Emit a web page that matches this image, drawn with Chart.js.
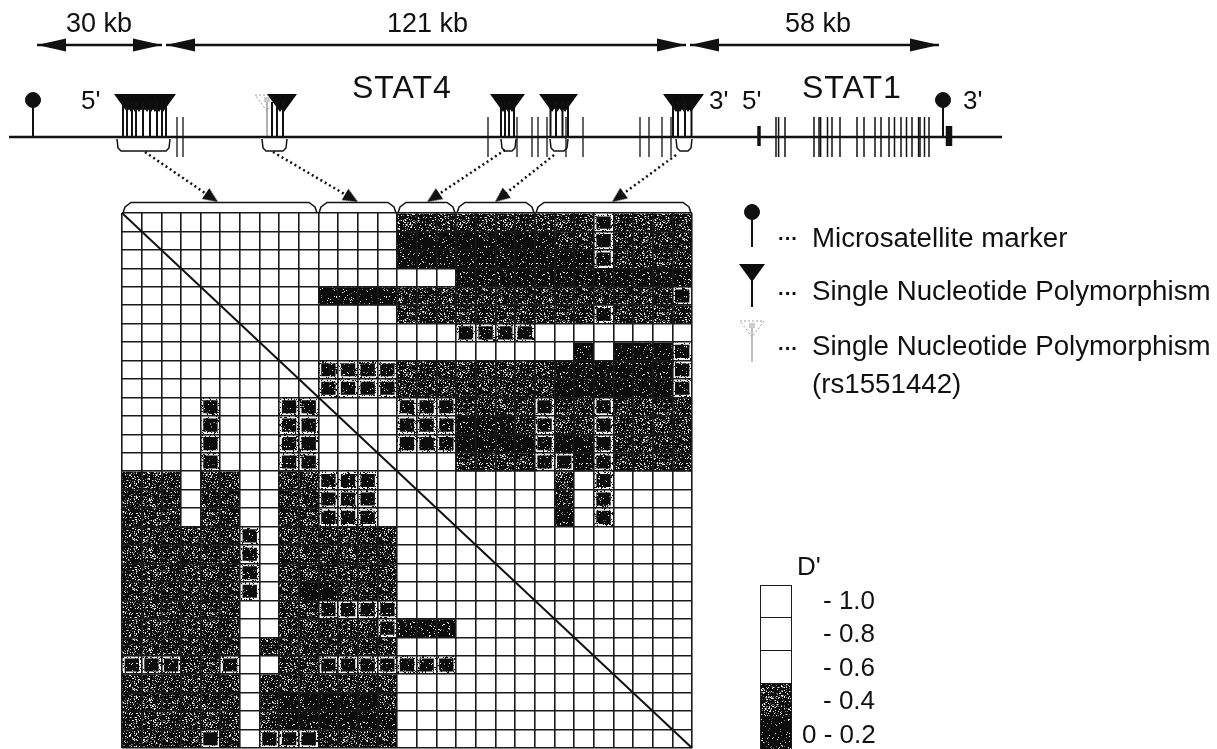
<!DOCTYPE html>
<html>
<head>
<meta charset="utf-8">
<title>STAT4 STAT1 LD</title>
<script src="https://cdn.jsdelivr.net/npm/chart.js@4"></script>
<style>
  html, body { margin: 0; background: #fff; overflow: hidden; }
  #page { position: relative; width: 1217px; height: 749px; overflow: hidden; }
  canvas { position: absolute; left: 0; top: 0; }
  .t { position: absolute; font-family: "Liberation Sans", Arial, sans-serif; color: #111; white-space: nowrap; line-height: 1; }
  .kb { font-size: 27px; }
  .gene { font-size: 32px; letter-spacing: 1px; }
  .end { font-size: 26px; }
  .leg { font-size: 27.7px; }
  .dots { font-size: 20px; font-weight: bold; }
  .bin { font-size: 26px; }
</style>
</head>
<body>
<div id="page">
  <canvas id="matrix" width="1217" height="749"></canvas>
  <canvas id="track" width="1217" height="749"></canvas>
  <canvas id="bins" width="33" height="165" style="left:759px;top:584px"></canvas>

  <div class="t kb" style="left:66px;top:10px">30 kb</div>
  <div class="t kb" style="left:387px;top:10px">121 kb</div>
  <div class="t kb" style="left:785px;top:10px">58 kb</div>
  <div class="t gene" style="left:352px;top:71px">STAT4</div>
  <div class="t gene" style="left:802px;top:71px">STAT1</div>
  <div class="t end" style="left:81px;top:87px">5'</div>
  <div class="t end" style="left:709px;top:87px">3'</div>
  <div class="t end" style="left:742px;top:87px">5'</div>
  <div class="t end" style="left:963px;top:87px">3'</div>

  <div class="t dots" style="left:778px;top:228px">···</div>
  <div class="t leg" style="left:812px;top:224px">Microsatellite marker</div>
  <div class="t dots" style="left:778px;top:283px">···</div>
  <div class="t leg" style="left:812px;top:277px">Single Nucleotide Polymorphism</div>
  <div class="t dots" style="left:778px;top:338px">···</div>
  <div class="t leg" style="left:812px;top:332px">Single Nucleotide Polymorphism</div>
  <div class="t leg" style="left:812px;top:370px">(rs1551442)</div>

  <div class="t bin" style="left:797px;top:553px">D'</div>
  <div class="t bin" style="left:823px;top:587px">- 1.0</div>
  <div class="t bin" style="left:823px;top:620px">- 0.8</div>
  <div class="t bin" style="left:823px;top:654px">- 0.6</div>
  <div class="t bin" style="left:823px;top:687px">- 0.4</div>
  <div class="t bin" style="left:802px;top:721px">0 - 0.2</div>
</div>
<script>
// D' matrix, read row by row. 0 white, 1 ringed dark cell, 2 speckled, 3 nearly solid
const row00 = [0,0,0,0,0,0,0,0,0,0,0,0,0,0,2,2,2,2,2,2,2,2,2,2,1,2,2,2,2];
const row01 = [0,0,0,0,0,0,0,0,0,0,0,0,0,0,3,3,3,3,3,3,3,3,2,2,1,2,2,2,2];
const row02 = [0,0,0,0,0,0,0,0,0,0,0,0,0,0,3,3,3,3,3,3,3,3,3,3,1,2,2,2,2];
const row03 = [0,0,0,0,0,0,0,0,0,0,0,0,0,0,0,0,0,3,3,3,3,3,3,3,3,3,3,3,3];
const row04 = [0,0,0,0,0,0,0,0,0,0,3,3,3,3,2,2,2,2,2,2,2,2,2,2,2,2,2,2,1];
const row05 = [0,0,0,0,0,0,0,0,0,0,0,0,0,0,2,2,2,2,2,2,2,2,2,2,1,2,2,2,2];
const row06 = [0,0,0,0,0,0,0,0,0,0,0,0,0,0,0,0,0,1,1,1,1,0,0,0,0,0,0,0,0];
const row07 = [0,0,0,0,0,0,0,0,0,0,0,0,0,0,0,0,0,0,0,0,0,0,0,3,0,3,3,3,1];
const row08 = [0,0,0,0,0,0,0,0,0,0,1,1,1,1,2,2,2,2,2,2,2,2,3,3,3,3,3,3,1];
const row09 = [0,0,0,0,0,0,0,0,0,0,1,1,1,1,2,2,2,2,2,2,2,2,3,3,3,3,3,3,1];
const row10 = [0,0,0,0,1,0,0,0,1,1,0,0,0,0,1,1,1,2,2,2,2,1,2,2,1,2,2,2,2];
const row11 = [0,0,0,0,1,0,0,0,1,1,0,0,0,0,1,1,1,3,3,3,2,1,2,2,1,2,2,2,2];
const row12 = [0,0,0,0,1,0,0,0,1,1,0,0,0,0,1,1,1,3,3,3,3,1,3,3,1,2,2,2,2];
const row13 = [0,0,0,0,1,0,0,0,1,1,0,0,0,0,0,0,0,2,2,2,2,1,1,3,1,2,2,2,2];
const row14 = [2,2,2,0,2,2,0,0,2,2,1,1,1,0,0,0,0,0,0,0,0,0,2,0,1,0,0,0,0];
const row15 = [2,2,2,0,2,2,0,0,2,2,1,1,1,0,0,0,0,0,0,0,0,0,2,0,1,0,0,0,0];
const row16 = [2,2,2,0,2,2,0,0,2,2,1,1,1,0,0,0,0,0,0,0,0,0,3,0,1,0,0,0,0];
const row17 = [2,2,2,2,2,2,1,0,2,2,2,2,2,2,0,0,0,0,0,0,0,0,0,0,0,0,0,0,0];
const row18 = [2,2,2,2,2,2,1,0,2,2,2,2,2,2,0,0,0,0,0,0,0,0,0,0,0,0,0,0,0];
const row19 = [2,2,2,2,2,2,1,0,2,2,2,2,2,2,0,0,0,0,0,0,0,0,0,0,0,0,0,0,0];
const row20 = [2,2,2,2,2,2,1,0,2,3,3,2,2,2,0,0,0,0,0,0,0,0,0,0,0,0,0,0,0];
const row21 = [2,2,2,2,2,2,0,0,2,2,1,1,1,1,0,0,0,0,0,0,0,0,0,0,0,0,0,0,0];
const row22 = [2,2,2,2,2,2,0,0,2,2,2,2,2,1,3,3,3,0,0,0,0,0,0,0,0,0,0,0,0];
const row23 = [2,2,2,2,2,2,0,2,2,2,2,2,2,2,0,0,0,0,0,0,0,0,0,0,0,0,0,0,0];
const row24 = [1,1,1,2,2,1,0,0,2,2,1,1,1,1,1,1,1,0,0,0,0,0,0,0,0,0,0,0,0];
const row25 = [2,2,2,2,2,2,0,2,2,2,2,2,2,2,0,0,0,0,0,0,0,0,0,0,0,0,0,0,0];
const row26 = [2,2,2,2,2,2,0,2,3,3,3,3,3,2,0,0,0,0,0,0,0,0,0,0,0,0,0,0,0];
const row27 = [2,2,2,2,2,2,0,2,3,3,3,3,3,3,0,0,0,0,0,0,0,0,0,0,0,0,0,0,0];
const row28 = [2,2,2,2,1,2,0,1,1,1,2,2,2,2,0,0,0,0,0,0,0,0,0,0,0,0,0,0,0];
const rows = [row00,row01,row02,row03,row04,row05,row06,row07,row08,row09,row10,row11,row12,row13,row14,
  row15,row16,row17,row18,row19,row20,row21,row22,row23,row24,row25,row26,row27,row28];
const markers = rows.map((r, i) => 'm' + (i + 1));

// Colour key, top to bottom
const binLevels = [0, 0, 0, 2, 3];

// Gene track, positions along the page width
const exonsStat4 = [177,183,488,517,532,538,547,566,583,640,649,662,671];
const exonsStat1 = [776,778.6,785,814,819,820.6,827.5,832,840,857,864,875,881,889,894.5,901,906.5,912,918.6,920,924.5,929];
const thickExons = [759,949];
const snpStems = [123,127,132,136,143,150,157,162,166,272,277,283,501,505,509,514,550.5,556,562.5,568,673,678,685,691.5];
const snpHeads = [127,131,135,139,143,147,151,155,159,163,280,284,503,508,512,552,557,562,565,676,680,684,688,691];
const rareStem = [267];
const msMarkers = [33,943];
const legendMs = [752];
const legendSnp = [752];
const spans = [[37,162],[166,686],[690,939]];
const upperBrackets = [[117,170],[262,287],[501,516],[550,568],[676,692]];
const lowerBrackets = [[122,318],[318,397],[397,456],[456,535],[535,692]];
const dottedArrows = [[145,152,218,202],[273,152,358,202],[505,150,427,202],[554,155,495,202],[676,155,612,202]];
const diagonal = [[122,213],[692,748]];

function speckle(size, density, ring) {
  const c = document.createElement('canvas');
  c.width = c.height = size;
  const g = c.getContext('2d');
  g.fillStyle = ring ? '#f4f4f4' : '#0c0c0c';
  g.fillRect(0, 0, size, size);
  for (let y = 0; y < size; y++) {
    for (let x = 0; x < size; x++) {
      const h = Math.sin(x * 12.9898 + y * 78.233) * 43758.5453;
      const f = h - Math.floor(h);
      if (f < density) {
        g.fillStyle = ring ? '#111' : (f < density / 2 ? '#e8e8e8' : '#777');
        g.fillRect(x, y, 1, 1);
      }
    }
  }
  return g.createPattern(c, 'repeat');
}

const fills = ['#ffffff', speckle(50, 0.05), speckle(50, 0.24), speckle(50, 0.08)];
const ringFill = speckle(50, 0.22, true);

function cellDatasets(levelRows) {
  return levelRows.map(r => ({
    data: r.map(() => 1),
    backgroundColor: r.map(v => fills[v]),
    borderColor: r.map(v => v === 1 ? ringFill : 'rgba(0,0,0,0)'),
    borderWidth: r.map(v => v === 1 ? 3 : 0),
    borderSkipped: false,
    barPercentage: 1,
    categoryPercentage: 1
  }));
}

const gridStyle = { color: '#1a1a1a', lineWidth: 1.6, z: 1, drawTicks: false };

new Chart(document.getElementById('matrix'), {
  type: 'bar',
  data: { labels: markers, datasets: cellDatasets(rows) },
  options: {
    responsive: false,
    animation: false,
    layout: { padding: { left: 122, top: 213, right: 525, bottom: 1 } },
    plugins: { legend: { display: false }, tooltip: { enabled: false } },
    scales: {
      x: { stacked: true, grid: { ...gridStyle, offset: true }, ticks: { display: false }, border: { display: false } },
      y: { stacked: true, reverse: true, min: 0, max: 29, grid: gridStyle, ticks: { display: false, stepSize: 1 }, border: { display: false } }
    }
  }
});

new Chart(document.getElementById('bins'), {
  type: 'bar',
  data: { labels: ['D'], datasets: cellDatasets(binLevels.map(v => [v])) },
  options: {
    responsive: false,
    animation: false,
    layout: { padding: { left: 1, top: 1, right: 1, bottom: 0 } },
    plugins: { legend: { display: false }, tooltip: { enabled: false } },
    scales: {
      x: { stacked: true, grid: { ...gridStyle, lineWidth: 1, offset: true }, ticks: { display: false }, border: { display: false } },
      y: { stacked: true, reverse: true, min: 0, max: 5, grid: { ...gridStyle, lineWidth: 1 }, ticks: { display: false, stepSize: 1 }, border: { display: false } }
    }
  }
});

// point glyphs for the track
function glyph(w, h, draw) {
  const c = document.createElement('canvas');
  c.width = w;
  c.height = h;
  draw(c.getContext('2d'), w, h);
  return c;
}
const snpGlyph = glyph(26, 18, (g, w, h) => {
  g.fillStyle = '#0c0c0c';
  g.beginPath(); g.moveTo(0, 0); g.lineTo(w, 0); g.lineTo(w / 2, h); g.closePath(); g.fill();
});
const rareGlyph = glyph(26, 18, (g, w, h) => {
  g.strokeStyle = '#999';
  g.setLineDash([2, 2]);
  g.beginPath(); g.moveTo(1, 1); g.lineTo(w - 1, 1); g.lineTo(w / 2, h - 1); g.closePath(); g.stroke();
  g.fillStyle = '#ccc';
  g.fillRect(w / 2 - 3, 3, 6, 5);
});
// tip sits at the middle of the canvas so a point lands on the arrow end
const spanHead = glyph(60, 14, (g, w, h) => {
  g.fillStyle = '#111';
  g.beginPath(); g.moveTo(w / 2, h / 2); g.lineTo(1, 0.5); g.lineTo(1, h - 0.5); g.closePath(); g.fill();
});
const dotHead = glyph(32, 14, (g, w, h) => {
  g.fillStyle = '#111';
  g.beginPath(); g.moveTo(w / 2, h / 2); g.lineTo(1, 0.5); g.lineTo(1, h - 0.5); g.closePath(); g.fill();
});

function ticksAt(xs, y, radius, width, color) {
  return {
    data: xs.map(x => ({ x, y })), showLine: false,
    pointStyle: 'line', pointRotation: 90, pointRadius: radius,
    pointBorderColor: color || '#111', pointBorderWidth: width
  };
}
function glyphsAt(xs, y, style) {
  return { data: xs.map(x => ({ x, y })), showLine: false, pointStyle: style, pointRadius: 5 };
}
function discsAt(xs, y, radius) {
  return { data: xs.map(x => ({ x, y })), showLine: false, pointStyle: 'circle', pointRadius: radius, pointBackgroundColor: '#111', pointBorderColor: '#111' };
}
function path(points, width) {
  return { data: points.map(p => ({ x: p[0], y: p[1] })), showLine: true, pointRadius: 0, borderColor: '#111', borderWidth: width };
}

const trackDatasets = [
  path(diagonal, 2),
  path([[9, 137], [1002, 137]], 2.5),
  ticksAt(exonsStat4, 137, 20, 1.3),
  ticksAt(exonsStat1, 137, 20, 1.5),
  ticksAt([thickExons[0]], 136, 10, 3.5),
  ticksAt([thickExons[1]], 136, 10, 6.5),
  ticksAt(snpStems, 120, 18, 2),
  ticksAt(rareStem, 120, 18, 1.5, '#999'),
  glyphsAt(snpHeads, 103, snpGlyph),
  glyphsAt(rareStem, 103, rareGlyph),
  ticksAt(msMarkers, 119, 18, 2),
  discsAt(msMarkers, 100, 7.5),

  // key symbols
  ticksAt(legendMs, 230, 17, 2),
  discsAt(legendMs, 212, 7.5),
  ticksAt(legendSnp, 290, 17, 2),
  glyphsAt(legendSnp, 273, snpGlyph),
  ticksAt(legendSnp, 345, 17, 1.5, '#aaa'),
  glyphsAt(legendSnp, 329, rareGlyph)
];

spans.forEach(s => {
  trackDatasets.push({
    ...path([[s[0], 45], [s[1], 45]], 2.5),
    pointStyle: spanHead, pointRadius: 5, pointRotation: [180, 0]
  });
});
upperBrackets.forEach(b => {
  trackDatasets.push(path([[b[0], 139], [b[0] + 1, 148], [b[0] + 4, 151], [b[1] - 4, 151], [b[1] - 1, 148], [b[1], 139]], 1.5));
});
lowerBrackets.forEach(b => {
  trackDatasets.push(path([[b[0] + 1, 213], [b[0] + 3, 207], [b[0] + 9, 202.5], [b[1] - 9, 202.5], [b[1] - 3, 207], [b[1] - 1, 213]], 1.5));
});
dottedArrows.forEach(a => {
  const angle = Math.atan2(a[3] - a[1], a[2] - a[0]) * 180 / Math.PI;
  trackDatasets.push({
    ...path([[a[0], a[1]], [a[2] - (a[2] - a[0]) * 0.12, a[3] - (a[3] - a[1]) * 0.12]], 2.5),
    borderDash: [2, 3]
  });
  trackDatasets.push({
    data: [{ x: a[2], y: a[3] }], showLine: false,
    pointStyle: dotHead, pointRadius: 5, pointRotation: angle
  });
});

new Chart(document.getElementById('track'), {
  type: 'scatter',
  data: { datasets: trackDatasets },
  options: {
    responsive: false,
    animation: false,
    layout: { padding: 0, autoPadding: false },
    plugins: { legend: { display: false }, tooltip: { enabled: false } },
    scales: {
      x: { type: 'linear', display: false, min: 0, max: 1217 },
      y: { type: 'linear', display: false, min: 0, max: 749, reverse: true }
    }
  }
});
</script>
</body>
</html>
